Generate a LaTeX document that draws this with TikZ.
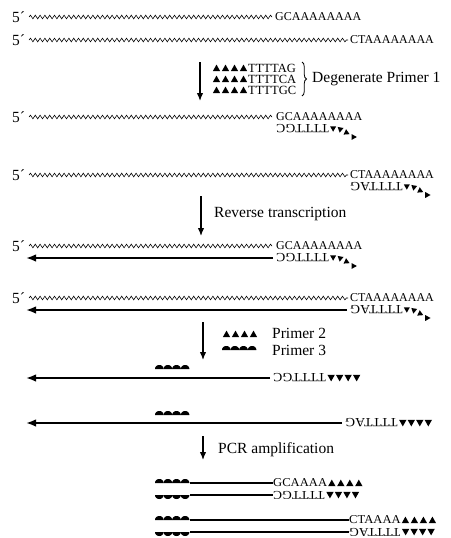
\documentclass[tikz,border=0pt]{standalone}
\usepackage{fontspec}
\setmainfont{Liberation Serif}
\usetikzlibrary{decorations.pathmorphing,decorations.pathreplacing,arrows.meta}

\newcommand\seqsize{\fontsize{12}{12}\selectfont}
\newcommand\prsize{\fontsize{12.5}{12.5}\selectfont}
\newcommand\pcrsize{\fontsize{12}{12}\selectfont}
\newcommand\lblsize{\fontsize{15.5}{16}\selectfont}

\tikzset{
  five/.style={font=\lblsize, inner sep=0pt, anchor=west},
  seq/.style={font=\seqsize, inner sep=0pt, anchor=west},
  prim/.style={font=\prsize, inner sep=0pt, anchor=west},
  rprim/.style={font=\prsize, inner sep=0pt, anchor=east, rotate=180, xscale=1.1},
  pprim/.style={font=\pcrsize, inner sep=0pt, anchor=west, xscale=1.05},
  rpprim/.style={font=\pcrsize, inner sep=0pt, anchor=east, rotate=180, xscale=1.12},
  lbl/.style={font=\lblsize, inner sep=0pt, anchor=west},
  wave/.style={decorate, decoration={snake, segment length=4.8pt, amplitude=1.8pt}, line width=0.6pt},
  steparrow/.style={line width=1.3pt, -{Latex[length=8pt,width=6.5pt]}},
  strand/.style={line width=1.7pt, -{Latex[length=10pt,width=7.5pt]}},
  duplex/.style={line width=1.2pt},
  tri/.pic={\fill (-3.7,3.2) -- (3.7,3.2) -- (0,-3.4) -- cycle;},
  bump/.pic={\fill plot[domain=0:180, samples=19] ({-4.3*cos(\x)}, {-4*sin(\x)}) -- cycle;},
  tumble/.pic={
    \pic[rotate=180,scale=0.8] at (4,0) {tri};
    \pic[rotate=170,scale=0.8] at (11,1) {tri};
    \pic[rotate=-115,scale=0.8] at (18,4) {tri};
    \pic[rotate=-90,scale=0.8] at (25,8) {tri};
  },
}

\begin{document}
\begin{tikzpicture}[x=1pt,y=-1pt]
\useasboundingbox (0,0) rectangle (450,538);

% ---- mRNA templates
\node[five] (fA) at (12,17) {5´};
\coordinate (wAa) at (29,17); \coordinate (wAb) at (272,17);
\draw[wave] (wAa) -- (wAb);
\node[seq] (sA) at (275,17) {GCAAAAAAAA};

\node[five] (fB) at (12,40) {5´};
\coordinate (wBa) at (29,40); \coordinate (wBb) at (348,40);
\draw[wave] (wBa) -- (wBb);
\node[seq] (sB) at (350,40) {CTAAAAAAAA};

% ---- step 1: degenerate primer 1
\coordinate (a1s) at (200,62); \coordinate (a1e) at (200,101);
\draw[steparrow] (a1s) -- (a1e);
\node[prim] (d1) at (248,68) {TTTTAG};
\node[prim] (d2) at (248,79) {TTTTCA};
\node[prim] (d3) at (248,90) {TTTTGC};
\foreach \n in {d1,d2,d3}{
  \begin{scope}[shift={(\n.west)}]
    \foreach \i in {0,...,3} \pic at (-4.5-9*\i,0) {tri};
  \end{scope}
}
\coordinate (bt) at (302,62); \coordinate (bb) at (302,96);
\draw[decorate, decoration={brace, amplitude=4.5pt}, line width=0.8pt] (bt) -- (bb);
\node[lbl] (deg) at (312,79) {Degenerate Primer 1};

% ---- annealed primers
\node[five] (fC) at (12,117) {5´};
\coordinate (wCa) at (29,117); \coordinate (wCb) at (272,117);
\draw[wave] (wCa) -- (wCb);
\node[seq] (sC) at (276,117) {GCAAAAAAAA};
\node[rprim] (rC) at (276,129) {TTTTGC};
\pic at (rC.west) {tumble};

\node[five] (fD) at (12,175) {5´};
\coordinate (wDa) at (29,175); \coordinate (wDb) at (348,175);
\draw[wave] (wDa) -- (wDb);
\node[seq] (sD) at (350,175) {CTAAAAAAAA};
\node[rprim] (rD) at (350,187) {TTTTAG};
\pic at (rD.west) {tumble};

% ---- step 2: reverse transcription
\coordinate (a2s) at (201,196); \coordinate (a2e) at (201,236);
\draw[steparrow] (a2s) -- (a2e);
\node[lbl] (rt) at (214,214) {Reverse transcription};

\node[five] (fE) at (12,246) {5´};
\coordinate (wEa) at (29,246); \coordinate (wEb) at (272,246);
\draw[wave] (wEa) -- (wEb);
\node[seq] (sE) at (276,246) {GCAAAAAAAA};
\node[rprim] (rE) at (276,258) {TTTTGC};
\coordinate (cE) at (26,258);
\draw[strand] (rE.east) ++(-3,0) coordinate (eE) (eE) -- (cE);
\pic at (rE.west) {tumble};

\node[five] (fF) at (12,298) {5´};
\coordinate (wFa) at (29,298); \coordinate (wFb) at (348,298);
\draw[wave] (wFa) -- (wFb);
\node[seq] (sF) at (350,298) {CTAAAAAAAA};
\node[rprim] (rF) at (350,310) {TTTTAG};
\coordinate (cF) at (26,310);
\draw[strand] (rF.east) ++(-3,0) coordinate (eF) (eF) -- (cF);
\pic at (rF.west) {tumble};

% ---- step 3: primers 2 and 3
\coordinate (a3s) at (203,322); \coordinate (a3e) at (203,360);
\draw[steparrow] (a3s) -- (a3e);
\foreach \i in {0,...,3} \pic at (226.5+9*\i,334) {tri};
\node[lbl] (p2) at (272,333) {Primer 2};
\foreach \i in {0,...,3} \pic at (226.3+8.6*\i,350) {bump};
\node[lbl] (p3) at (272,350) {Primer 3};

\foreach \i in {0,...,3} \pic at (159.3+8.6*\i,369) {bump};
\node[rprim] (rG) at (273,378) {TTTTGC};
\coordinate (cG) at (26,378);
\draw[strand] (rG.east) ++(-3,0) coordinate (eG) (eG) -- (cG);
\begin{scope}[shift={(rG.west)}]
  \foreach \i in {0,...,3} \pic[rotate=180] at (5+8.5*\i,0) {tri};
\end{scope}

\foreach \i in {0,...,3} \pic at (159.3+8.6*\i,415) {bump};
\node[rprim] (rH) at (345,423) {TTTTAG};
\coordinate (cH) at (26,423);
\draw[strand] (rH.east) ++(-3,0) coordinate (eH) (eH) -- (cH);
\begin{scope}[shift={(rH.west)}]
  \foreach \i in {0,...,3} \pic[rotate=180] at (5+8.5*\i,0) {tri};
\end{scope}

% ---- step 4: PCR amplification
\coordinate (a4s) at (203,436); \coordinate (a4e) at (203,460);
\draw[steparrow] (a4s) -- (a4e);
\node[lbl] (pcr) at (218,450) {PCR amplification};

\foreach \i in {0,...,3} \pic at (159.3+8.6*\i,483) {bump};
\coordinate (lI) at (190,483);
\node[pprim] (sI) at (273,483) {GCAAAA};
\draw[duplex] (lI) -- (sI.west);
\begin{scope}[shift={(sI.east)}]
  \foreach \i in {0,...,3} \pic at (4.5+9*\i,0) {tri};
\end{scope}
\foreach \i in {0,...,3} \pic[rotate=180] at (159.3+8.6*\i,495) {bump};
\coordinate (lI2) at (190,495);
\node[rpprim] (rI) at (273,495) {TTTTGC};
\draw[duplex] (lI2) -- (rI.east);
\begin{scope}[shift={(rI.west)}]
  \foreach \i in {0,...,3} \pic[rotate=180] at (5+8.5*\i,0) {tri};
\end{scope}

\foreach \i in {0,...,3} \pic at (159.3+8.6*\i,520) {bump};
\coordinate (lJ) at (190,520);
\node[pprim] (sJ) at (349,520) {CTAAAA};
\draw[duplex] (lJ) -- (sJ.west);
\begin{scope}[shift={(sJ.east)}]
  \foreach \i in {0,...,3} \pic at (4.5+9*\i,0) {tri};
\end{scope}
\foreach \i in {0,...,3} \pic[rotate=180] at (159.3+8.6*\i,532) {bump};
\coordinate (lJ2) at (190,532);
\node[rpprim] (rJ) at (349,532) {TTTTAG};
\draw[duplex] (lJ2) -- (rJ.east);
\begin{scope}[shift={(rJ.west)}]
  \foreach \i in {0,...,3} \pic[rotate=180] at (5+8.5*\i,0) {tri};
\end{scope}
\end{tikzpicture}
\end{document}
